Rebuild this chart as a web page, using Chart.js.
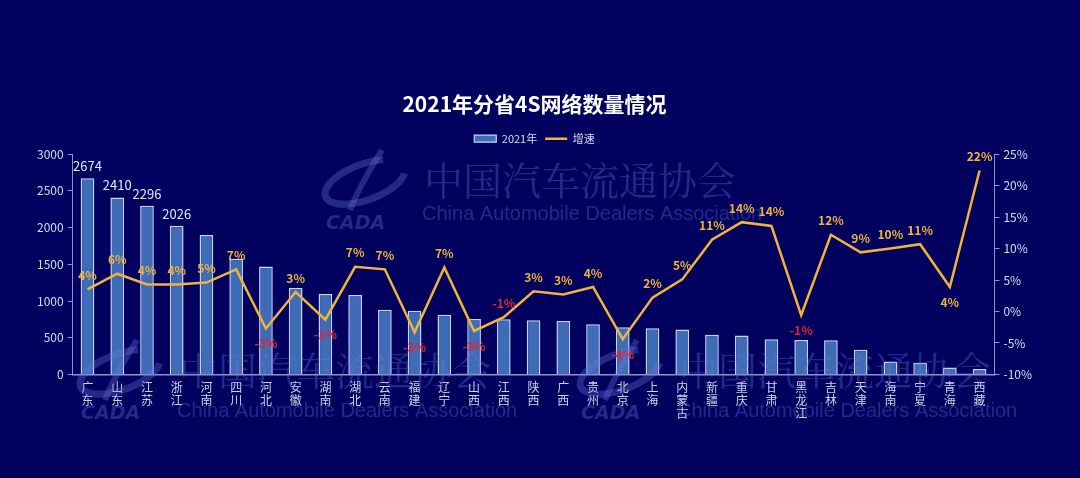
<!DOCTYPE html>
<html>
<head>
<meta charset="utf-8">
<script src="https://cdn.jsdelivr.net/npm/chart.js@4.4.1/dist/chart.umd.min.js"></script>
<style>
  html, body { margin: 0; padding: 0; background: #01005f; }
  #wrap { width: 1080px; height: 478px; position: relative; }
</style>
</head>
<body>
<div id="wrap"><canvas id="c" width="1080" height="478"></canvas></div>
<script>
// ---- data ----
const provinces = ['广东','山东','江苏','浙江','河南','四川','河北','安徽','湖南','湖北','云南','福建','辽宁','山西','江西','陕西','广西','贵州','北京','上海','内蒙古','新疆','重庆','甘肃','黑龙江','吉林','天津','海南','宁夏','青海','西藏'];
const count2021 = [2674,2410,2296,2026,1900,1575,1470,1176,1095,1081,882,868,814,756,750,737,728,683,642,628,611,539,529,479,470,466,335,176,159,95,72];
const growth = [3.5,6.0,4.3,4.3,4.6,6.7,-2.7,3.1,-1.3,7.1,6.7,-3.3,7.0,-3.1,-0.9,3.2,2.7,3.9,-4.4,2.2,5.1,11.4,14.2,13.6,-0.6,12.2,9.4,10.0,10.7,3.9,22.4];
const leftTicks = [0,500,1000,1500,2000,2500,3000];
const rightTicks = [-10,-5,0,5,10,15,20,25];
const barLabelCount = 4;
const titleText = '2021年分省4S网络数量情况';
const seriesNames = ['2021年','增速'];

const FONT = '"Noto Sans CJK SC", "Noto Sans", sans-serif';
const GOLD = '#f0b43a';
const RED = '#d8283a';
const AXIS = 'rgba(190,196,235,0.75)';

const watermarkPlugin = {
  id: 'watermark',
  afterDatasetsDraw(chart) {
    const ctx = chart.ctx;
    const spots = [[320,180,34],[75,370,41],[575,370,41]];
    ctx.save();
    ctx.fillStyle = 'rgba(110,120,225,0.33)';
    ctx.strokeStyle = 'rgba(110,120,225,0.33)';
    spots.forEach(([x,y,eng]) => {
      ctx.save();
      ctx.lineWidth = 7;
      ctx.beginPath();
      ctx.ellipse(x+45, y+2, 42, 18, -0.35, 0.3, Math.PI*1.7);
      ctx.stroke();
      ctx.lineWidth = 6;
      ctx.beginPath();
      ctx.moveTo(x+62, y-30); ctx.quadraticCurveTo(x+40, y+5, x+30, y+30);
      ctx.stroke();
      ctx.restore();
      ctx.font = 'italic bold 19px "DejaVu Sans", sans-serif';
      ctx.textAlign = 'left'; ctx.textBaseline = 'middle';
      ctx.fillText('CADA', x+6, y+44);
      ctx.font = '39px "Noto Serif CJK SC", "Noto Sans CJK SC", serif';
      ctx.fillText('中国汽车流通协会', x+104, y);
      ctx.font = '20px "Liberation Sans", "Noto Sans", sans-serif';
      ctx.fillText('China Automobile Dealers Association', x+102, y+eng);
    });
    ctx.restore();
  }
};

const labelPlugin = {
  id: 'valueLabels',
  afterDatasetsDraw(chart) {
    const ctx = chart.ctx;
    ctx.save();
    ctx.textAlign = 'center';
    ctx.textBaseline = 'middle';
    const barMeta = chart.getDatasetMeta(0);
    ctx.font = '13px ' + FONT;
    ctx.fillStyle = '#e4e8ff';
    barMeta.data.forEach((el, i) => {
      if (i < barLabelCount) ctx.fillText(String(count2021[i]), el.x, el.y - 12);
    });
    const lineMeta = chart.getDatasetMeta(1);
    ctx.font = 'bold 12px ' + FONT;
    lineMeta.data.forEach((el, i) => {
      const v = growth[i];
      const prev = i > 0 ? growth[i-1] : -Infinity;
      const next = i < growth.length - 1 ? growth[i+1] : -Infinity;
      const depth = Math.min(prev - v, next - v);
      const below = depth >= 2;
      const txt = Math.round(v) + '%';
      ctx.fillStyle = v < 0 ? RED : GOLD;
      ctx.fillText(txt, el.x, el.y + (below ? 15 : -14));
    });
    ctx.restore();
  }
};

const bgPlugin = {
  id: 'bg',
  beforeDraw(chart) {
    const ctx = chart.ctx;
    ctx.save();
    ctx.fillStyle = '#01005f';
    ctx.fillRect(0, 0, chart.width, chart.height);
    ctx.restore();
  }
};

new Chart(document.getElementById('c'), {
  type: 'bar',
  data: {
    labels: provinces.map(p => p.split('')),
    datasets: [
      {
        type: 'bar',
        label: seriesNames[0],
        data: count2021,
        yAxisID: 'y',
        backgroundColor: '#3f6cb6',
        borderColor: '#c8d6ff',
        borderWidth: 1.5,
        barPercentage: 0.46,
        categoryPercentage: 1.0,
        order: 2
      },
      {
        type: 'line',
        label: seriesNames[1],
        data: growth,
        yAxisID: 'y1',
        borderColor: GOLD,
        backgroundColor: GOLD,
        borderWidth: 2.5,
        pointRadius: 0,
        tension: 0,
        order: 1
      }
    ]
  },
  options: {
    responsive: false,
    animation: false,
    devicePixelRatio: 1,
    layout: { padding: { top: 81, left: 33, right: 44, bottom: 52 } },
    plugins: {
      title: {
        display: true,
        text: titleText,
        color: '#ffffff',
        font: { family: FONT, size: 21, weight: 'bold' },
        padding: { top: 10, bottom: 9 }
      },
      legend: {
        display: true,
        labels: {
          color: '#d8dcf2',
          font: { family: FONT, size: 11 },
          usePointStyle: true,
          pointStyleWidth: 22,
          boxHeight: 7,
          boxWidth: 22,
          padding: 8,
          generateLabels(chart) {
            return chart.data.datasets.map((ds, i) => ({
              text: ds.label,
              fillStyle: i === 0 ? '#3f6cb6' : GOLD,
              strokeStyle: i === 0 ? '#c8d6ff' : GOLD,
              lineWidth: i === 0 ? 1.2 : 2.5,
              pointStyle: i === 0 ? 'rect' : 'line',
              fontColor: '#d8dcf2',
              datasetIndex: i,
              hidden: false
            }));
          }
        }
      },
      tooltip: { enabled: false }
    },
    scales: {
      x: {
        grid: { display: false, drawTicks: false },
        border: { display: true, color: AXIS, width: 1.5 },
        ticks: {
          color: '#cfd3ea',
          font: { family: FONT, size: 12, lineHeight: 1.1 },
          maxRotation: 0, minRotation: 0, autoSkip: false,
          padding: 6
        }
      },
      y: {
        position: 'left',
        min: 0, max: 3000,
        afterBuildTicks(scale) { scale.ticks = leftTicks.map(v => ({ value: v })); },
        grid: { display: true, drawOnChartArea: false, drawTicks: true, tickLength: 5, color: AXIS },
        border: { display: true, color: AXIS },
        ticks: { color: '#d8dcf2', font: { family: FONT, size: 12 }, padding: 4, callback: v => String(v) }
      },
      y1: {
        position: 'right',
        min: -10, max: 25,
        afterBuildTicks(scale) { scale.ticks = rightTicks.map(v => ({ value: v })); },
        grid: { display: true, drawOnChartArea: false, drawTicks: true, tickLength: 5, color: AXIS },
        border: { display: true, color: AXIS },
        ticks: { color: '#d8dcf2', font: { family: FONT, size: 12 }, padding: 4, callback: v => v + '%' }
      }
    }
  },
  plugins: [bgPlugin, watermarkPlugin, labelPlugin]
});
</script>
</body>
</html>
